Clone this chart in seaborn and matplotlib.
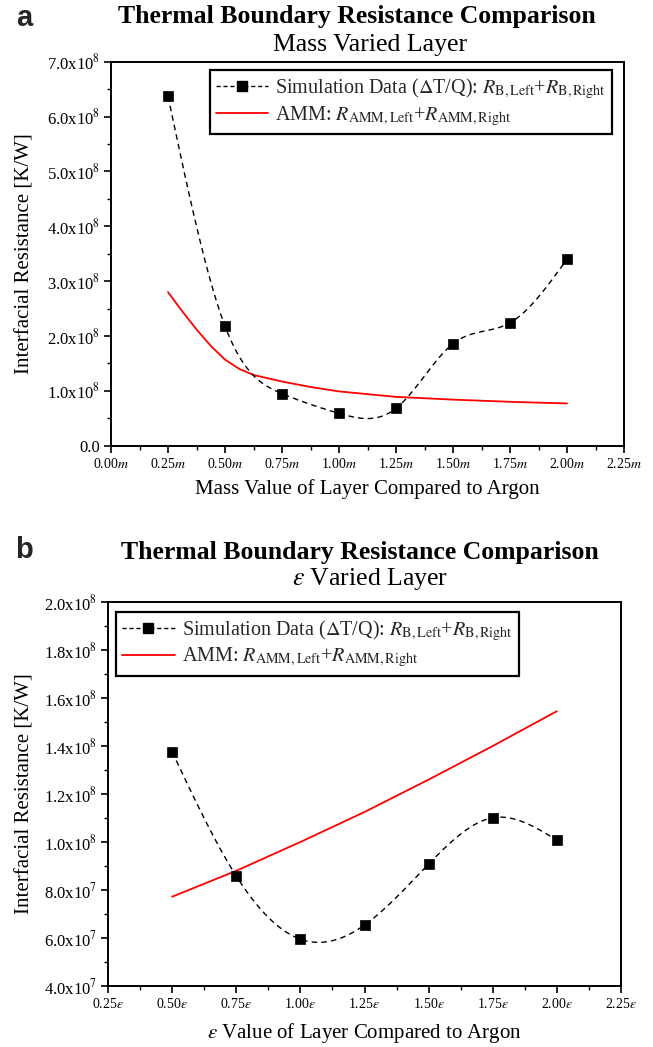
import numpy as np
import pandas as pd
import matplotlib
matplotlib.use("Agg")
import matplotlib.pyplot as plt
from matplotlib.lines import Line2D
from matplotlib.ticker import FuncFormatter, FixedLocator, AutoMinorLocator
import seaborn as sns

# ---------------- data ----------------
# Panel a: mass varied layer (x in units of m, y in K/W)
mass_x = [0.25, 0.50, 0.75, 1.00, 1.25, 1.50, 1.75, 2.00]
mass_sim = [6.37e8, 2.18e8, 0.95e8, 0.59e8, 0.68e8, 1.86e8, 2.24e8, 3.40e8]
mass_amm_x = [0.25, 0.3125, 0.375, 0.4375, 0.50, 0.5625, 0.625, 0.75, 0.875,
              1.00, 1.25, 1.50, 1.75, 2.00]
mass_amm = [2.80e8, 2.45e8, 2.12e8, 1.82e8, 1.57e8, 1.40e8, 1.29e8, 1.17e8,
            1.07e8, 0.99e8, 0.89e8, 0.84e8, 0.80e8, 0.77e8]

# Panel b: epsilon varied layer
eps_x = [0.50, 0.75, 1.00, 1.25, 1.50, 1.75, 2.00]
eps_sim = [1.376e8, 0.858e8, 0.595e8, 0.654e8, 0.908e8, 1.101e8, 1.008e8]
eps_amm_x = [0.50, 0.75, 1.00, 1.25, 1.50, 1.75, 2.00]
eps_amm = [0.772e8, 0.880e8, 1.000e8, 1.125e8, 1.260e8, 1.400e8, 1.545e8]

mass_xticks = [0.00, 0.25, 0.50, 0.75, 1.00, 1.25, 1.50, 1.75, 2.00, 2.25]
eps_xticks = [0.25, 0.50, 0.75, 1.00, 1.25, 1.50, 1.75, 2.00, 2.25]
mass_yticks = [0.0, 1e8, 2e8, 3e8, 4e8, 5e8, 6e8, 7e8]
eps_yticks = [4e7, 6e7, 8e7, 1.0e8, 1.2e8, 1.4e8, 1.6e8, 1.8e8, 2.0e8]

title_text = "Thermal Boundary Resistance Comparison"
sub_a = "Mass Varied Layer"
sub_b = r"$\varepsilon$ Varied Layer"
xlabel_a = "Mass Value of Layer Compared to Argon"
xlabel_b = r"$\varepsilon$ Value of Layer Compared to Argon"
ylabel = "Interfacial Resistance [K/W]"
leg_sim = r"Simulation Data ($\Delta$T/Q): $R_{\mathrm{B,Left}}$+$R_{\mathrm{B,Right}}$"
leg_amm = r"AMM: $R_{\mathrm{AMM,Left}}$+$R_{\mathrm{AMM,Right}}$"


def natural_spline(x, y, n=300):
    """Natural cubic spline used only as the smooth connector between data points."""
    x = np.asarray(x, float)
    y = np.asarray(y, float)
    k = len(x)
    h = np.diff(x)
    A = np.zeros((k, k))
    r = np.zeros(k)
    A[0, 0] = A[-1, -1] = 1.0
    for i in range(1, k - 1):
        A[i, i - 1] = h[i - 1]
        A[i, i] = 2 * (h[i - 1] + h[i])
        A[i, i + 1] = h[i]
        r[i] = 6 * ((y[i + 1] - y[i]) / h[i] - (y[i] - y[i - 1]) / h[i - 1])
    M = np.linalg.solve(A, r)
    xs = np.linspace(x[0], x[-1], n)
    idx = np.clip(np.searchsorted(x, xs) - 1, 0, k - 2)
    x0, x1 = x[idx], x[idx + 1]
    hh = x1 - x0
    a = (x1 - xs) / hh
    b = (xs - x0) / hh
    ys = (a * y[idx] + b * y[idx + 1]
          + ((a ** 3 - a) * M[idx] + (b ** 3 - b) * M[idx + 1]) * hh ** 2 / 6)
    return xs, ys


sns.set_theme(style="white")
plt.rcParams["font.family"] = ["Liberation Serif", "DejaVu Serif"]
plt.rcParams["mathtext.fontset"] = "stix"
plt.rcParams["axes.linewidth"] = 1.4

W, H = 653, 1047
fig = plt.figure(figsize=(W / 100, H / 100), dpi=100)

RED = "#ff0000"


def fx(px):
    return px / W


def fy(py):
    return 1 - py / H


def sci_fmt(v, pos):
    if abs(v) < 1e-9:
        return "0.0"
    e = int(np.floor(np.log10(abs(v)) + 1e-9))
    m = v / 10 ** e
    return f"{m:.1f}x10$^{{{e}}}$"


def draw_panel(rect, xs, sim, ax_x, amm, xticks, xlim, yticks, ylim, sym,
               xlabel, leg_loc, leg_anchor, ylab_x, xlab_y):
    ax = fig.add_axes(rect)
    sx, sy = natural_spline(xs, sim)
    sns.lineplot(x=sx, y=sy, ax=ax, color="black", linewidth=1.0,
                 linestyle=(0, (4, 3)), zorder=3)
    sns.lineplot(x=ax_x, y=amm, ax=ax, color=RED, linewidth=1.3, zorder=2)
    sns.scatterplot(x=xs, y=sim, ax=ax, marker="s", s=60, color="black",
                    edgecolor="black", linewidth=0.5, zorder=4)
    ax.set_xlim(*xlim)
    ax.set_ylim(*ylim)
    ax.xaxis.set_major_locator(FixedLocator(xticks))
    ax.yaxis.set_major_locator(FixedLocator(yticks))
    ax.xaxis.set_minor_locator(AutoMinorLocator(2))
    ax.yaxis.set_minor_locator(AutoMinorLocator(2))
    ax.xaxis.set_major_formatter(FuncFormatter(lambda v, p: f"{v:.2f}${sym}$"))
    ax.yaxis.set_major_formatter(FuncFormatter(sci_fmt))
    ax.tick_params(axis="both", which="major", direction="out", length=5,
                   width=1.2, color="black", labelcolor="black",
                   bottom=True, left=True, top=False, right=False, pad=3)
    ax.tick_params(axis="x", which="major", labelsize=10)
    ax.tick_params(axis="y", which="major", labelsize=12)
    ax.tick_params(axis="both", which="minor", direction="out", length=3,
                   width=1.0, color="black", bottom=True, left=True,
                   top=False, right=False)
    for s in ax.spines.values():
        s.set_color("black")
        s.set_linewidth(1.4)
    ax.set_xlabel(xlabel, fontsize=15, color="black")
    ax.xaxis.set_label_coords(0.5, xlab_y)
    ax.set_ylabel(ylabel, fontsize=15, color="black")
    ax.yaxis.set_label_coords(ylab_x, 0.5)
    handles = [
        Line2D([], [], color="black", linestyle=(0, (3, 2)), linewidth=1.0,
               marker="s", markersize=7, markerfacecolor="black"),
        Line2D([], [], color=RED, linewidth=1.3),
    ]
    leg = ax.legend(handles, [leg_sim, leg_amm], loc=leg_loc,
                    bbox_to_anchor=leg_anchor, fontsize=14.5, frameon=True,
                    fancybox=False, framealpha=1, edgecolor="black",
                    borderaxespad=0, handlelength=2.6, handletextpad=0.35,
                    borderpad=0.3, labelspacing=0.15)
    leg.get_frame().set_linewidth(1.6)
    return ax


# panel a
axa = draw_panel([fx(111), fy(445.7), fx(624) - fx(111), fy(61.7) - fy(445.7)],
                 mass_x, mass_sim, mass_amm_x, mass_amm, mass_xticks,
                 (0.0, 2.25), mass_yticks, (0.0, 7.0e8), "m", xlabel_a,
                 "upper right", (0.977, 0.978), -0.15, -0.088)

# panel b
axb = draw_panel([fx(108), fy(986), fx(621) - fx(108), fy(602) - fy(986)],
                 eps_x, eps_sim, eps_amm_x, eps_amm, eps_xticks,
                 (0.25, 2.25), eps_yticks, (4e7, 2.0e8), r"\varepsilon", xlabel_b,
                 "upper left", (0.016, 0.975), -0.144, -0.092)

# titles
fig.text(fx(357), fy(17), title_text, ha="center", va="center",
         fontsize=18.5, fontweight="bold", color="black")
fig.text(fx(370), fy(45), sub_a, ha="center", va="center",
         fontsize=18.5, color="black")
fig.text(fx(360), fy(553), title_text, ha="center", va="center",
         fontsize=18.5, fontweight="bold", color="black")
fig.text(fx(370), fy(579), sub_b, ha="center", va="center",
         fontsize=18.5, color="black")
fig.text(fx(24), fy(18), "a", ha="center", va="center", fontsize=21,
         fontweight="bold", family=["Liberation Sans", "DejaVu Sans"])
fig.text(fx(24), fy(550), "b", ha="center", va="center", fontsize=21,
         fontweight="bold", family=["Liberation Sans", "DejaVu Sans"])

fig.savefig("out.png", dpi=100, facecolor="white")
